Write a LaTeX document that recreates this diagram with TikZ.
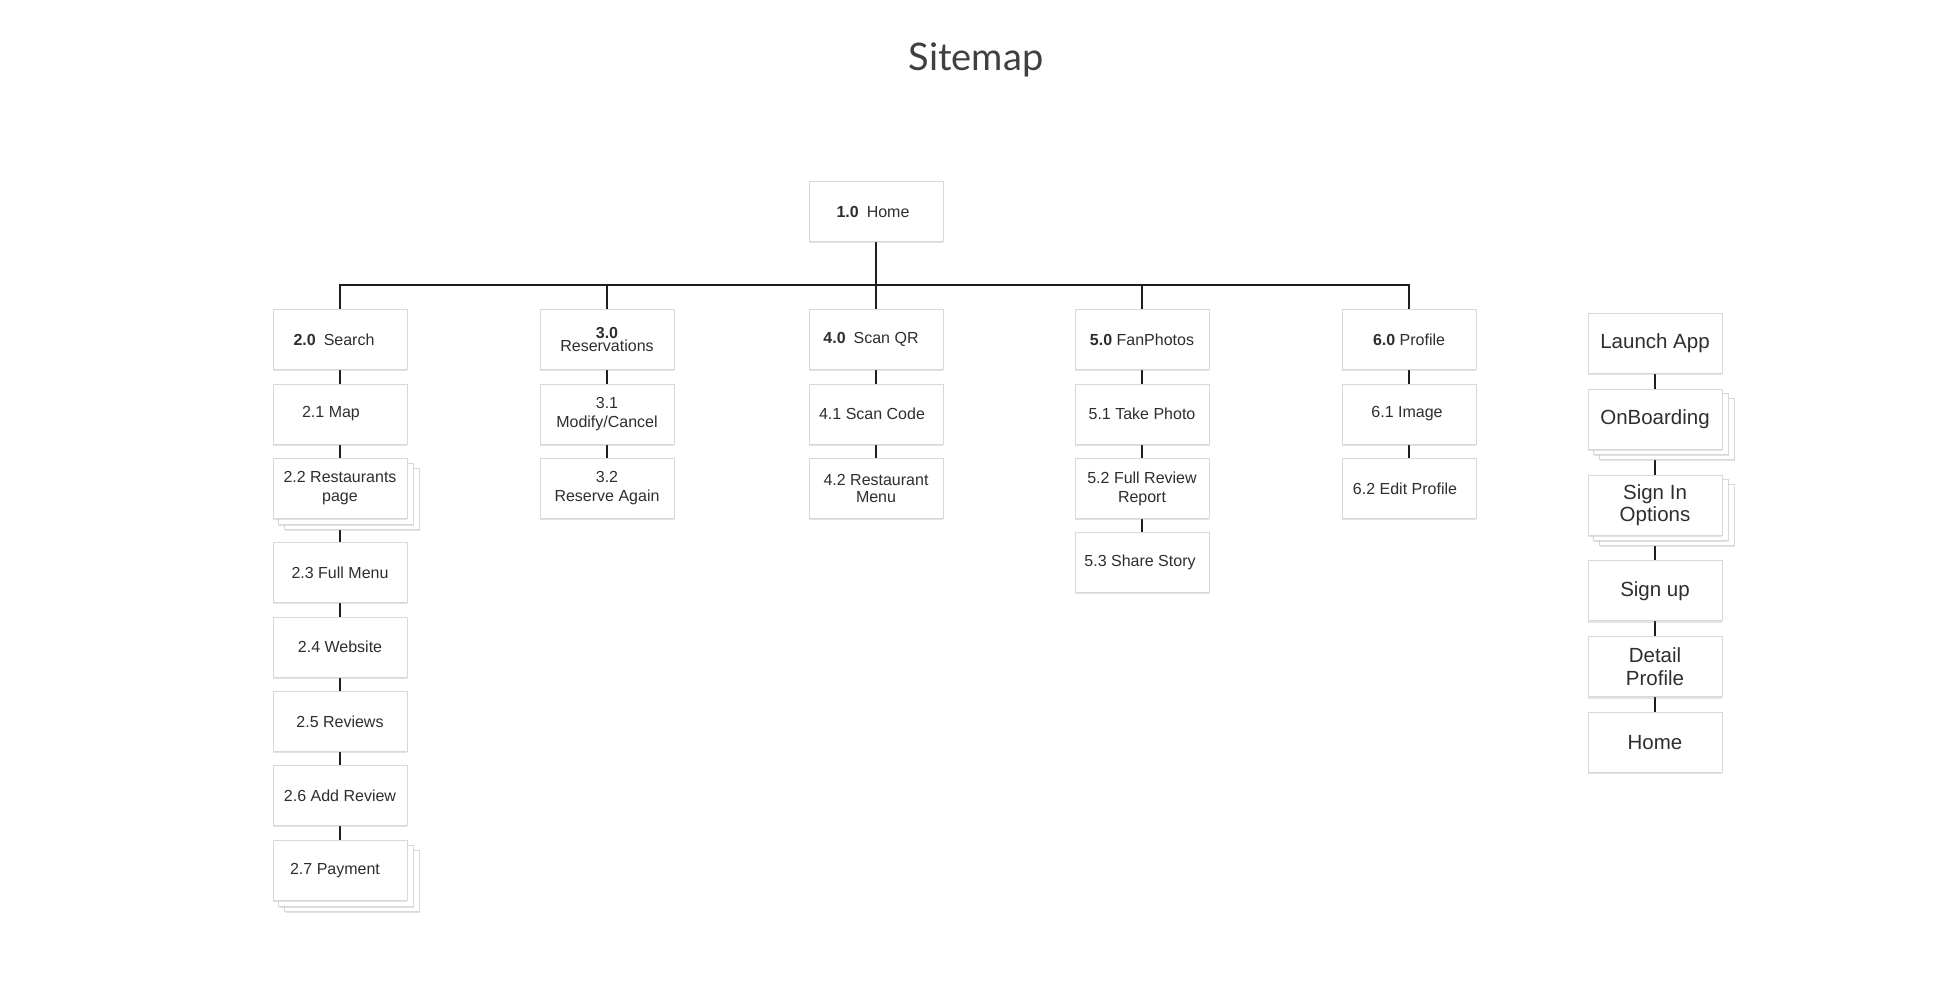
\documentclass[tikz,border=0pt]{standalone}
\usepackage{fontspec}
\setmainfont{Liberation Sans}
\newfontfamily\titlefont{Lato}
\usetikzlibrary{shadows,calc}
\pgfdeclarelayer{paper}
\pgfdeclarelayer{bg}
\pgfdeclarelayer{stack}
\pgfsetlayers{paper,bg,stack,main}
\definecolor{boxline}{HTML}{D8D8D8}
\definecolor{txt}{HTML}{2E2E2E}
\definecolor{lnk}{HTML}{1E1E1E}
\tikzset{
  shade/.style={drop shadow={shadow xshift=0pt,shadow yshift=-1.8pt,opacity=0.22}},
  box/.style={draw=boxline,line width=1pt,fill=white,minimum width=134pt,minimum height=60pt,
    inner sep=0pt,align=center,font=\fontsize{16}{19}\selectfont,text=txt,shade},
  bigbox/.style={box,font=\fontsize{20.5}{22.5}\selectfont},
  tight/.style={font=\fontsize{16}{13}\selectfont},
  medium/.style={font=\fontsize{16}{17}\selectfont},
  stacklayer/.style={draw=boxline,line width=1pt,fill=white,shade},
  link/.style={line width=2pt,draw=lnk}
}
\newcommand{\stackit}[1]{%
  \begin{pgfonlayer}{stack}
    \path[stacklayer] ([xshift=12pt,yshift=-10pt]#1.south west) rectangle ([xshift=12pt,yshift=-10pt]#1.north east);
    \path[stacklayer] ([xshift=6pt,yshift=-5pt]#1.south west) rectangle ([xshift=6pt,yshift=-5pt]#1.north east);
  \end{pgfonlayer}}
\begin{document}
\begin{tikzpicture}[x=1pt,y=-1pt]
\begin{pgfonlayer}{paper}
\fill[white] (0,0) rectangle (1950,1000);
\end{pgfonlayer}
\useasboundingbox (0,0) rectangle (1950,1000);
\node[font=\titlefont\fontsize{38}{42}\selectfont,text=black!75] (title) at (976,60) {Sitemap};

\node[box] (home) at (876,211.5) {\textbf{1.0}\enspace Home\kern6pt};

% column 2
\node[box] (s20) at (340,339.5) {\textbf{2.0}\enspace Search\kern12pt};
\node[box] (s21) at (340,414) {2.1 Map\kern18pt};
\node[box] (s22) at (340,488.5) {2.2 Restaurants\\page};
\node[box] (s23) at (340,572.5) {2.3 Full Menu};
\node[box] (s24) at (340,647) {2.4 Website};
\node[box] (s25) at (340,721.5) {2.5 Reviews};
\node[box] (s26) at (340,795.5) {2.6 Add Review};
\node[box] (s27) at (340,870.5) {2.7 Payment\kern10pt};
% column 3
\node[box,tight] (r30) at (607,339.5) {\textbf{3.0}\\Reservations};
\node[box] (r31) at (607,414) {3.1\\Modify/Cancel};
\node[box] (r32) at (607,488.5) {3.2\\Reserve Again};
% column 4
\node[box] (q40) at (876,339.5) {\textbf{4.0}\enspace Scan QR\kern10pt};
\node[box] (q41) at (876,414) {4.1 Scan Code\kern8pt};
\node[box,medium] (q42) at (876,488.5) {4.2 Restaurant\\Menu};
% column 5
\node[box] (f50) at (1142,339.5) {\textbf{5.0} FanPhotos};
\node[box] (f51) at (1142,414) {5.1 Take Photo};
\node[box] (f52) at (1142,488.5) {5.2 Full Review\\Report};
\node[box] (f53) at (1142,562.5) {5.3 Share Story\kern4pt};
% column 6
\node[box] (p60) at (1409,339.5) {\textbf{6.0} Profile};
\node[box] (p61) at (1409,414) {6.1 Image\kern4pt};
\node[box] (p62) at (1409,488.5) {6.2 Edit Profile\kern8pt};
% right column
\node[bigbox] (la) at (1655,343) {Launch App};
\node[bigbox] (ob) at (1655,419) {OnBoarding};
\node[bigbox] (si) at (1655,505) {Sign In\\Options};
\node[bigbox] (su) at (1655,590.7) {Sign up};
\node[bigbox] (dp) at (1655,666.7) {Detail\\Profile};
\node[bigbox] (hm) at (1655,742.3) {Home};

\stackit{s22}
\stackit{s27}
\stackit{ob}
\stackit{si}

\coordinate (bar) at (0,285);
\begin{pgfonlayer}{bg}
  \draw[link] (home.south) -- (home.south |- bar);
  \draw[link] (s20.north) -- (s20.north |- bar) -- (p60.north |- bar) -- (p60.north);
  \draw[link] (r30.north) -- (r30.north |- bar);
  \draw[link] (q40.north) -- (q40.north |- bar);
  \draw[link] (f50.north) -- (f50.north |- bar);
  \foreach \a/\b in {s20/s21,s21/s22,s22/s23,s23/s24,s24/s25,s25/s26,s26/s27,
                     r30/r31,r31/r32,q40/q41,q41/q42,f50/f51,f51/f52,f52/f53,
                     p60/p61,p61/p62,la/ob,ob/si,si/su,su/dp,dp/hm}
    \draw[link] (\a) -- (\b);
\end{pgfonlayer}
\end{tikzpicture}
\end{document}
